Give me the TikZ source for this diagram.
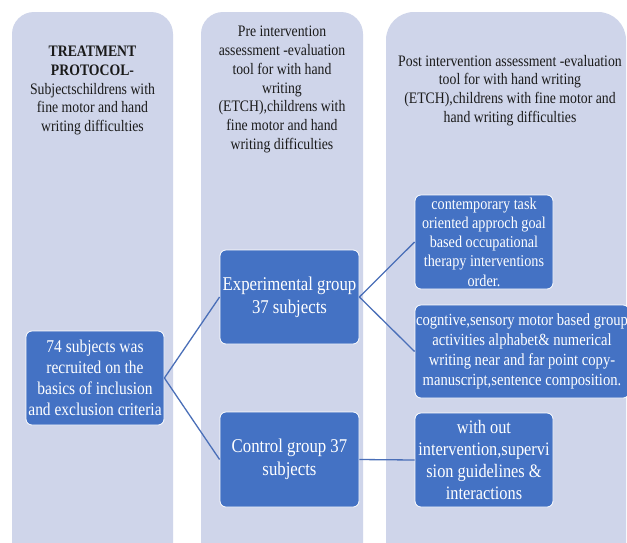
\documentclass[tikz,border=0pt]{standalone}
\usepackage{fontspec}
\newfontfamily\tnr{Liberation Serif}[FakeStretch=0.86]
\definecolor{lane}{HTML}{CFD5EA}
\definecolor{boxblue}{HTML}{4472C4}
\definecolor{linkblue}{HTML}{4A6FB8}
\definecolor{ink}{HTML}{1A1A1A}
\tikzset{
  lanebox/.style={fill=lane, draw=none, rounded corners=22pt},
  headtext/.style={text=ink, align=center, inner sep=0pt, font=\tnr\fontsize{16}{18.7}\selectfont},
  bluebox/.style={fill=boxblue, draw=white, line width=0.8pt, rounded corners=6pt,
    text=white, align=center, inner sep=0pt},
  link/.style={draw=linkblue, line width=1.3pt}
}
\begin{document}
\begin{tikzpicture}[x=1pt,y=-1pt]
\useasboundingbox (0,0) rectangle (627,542);
\clip (0,0) rectangle (627,542);
\fill[white] (0,0) rectangle (627,542);

% three lanes
\fill[lanebox] (12,12) rectangle (173,570);
\fill[lanebox] (201,12) rectangle (363,570);
\fill[lanebox, rounded corners=28pt] (386,12) rectangle (626,575);

% lane headings
\node[headtext] (h1) at (92.5,90.5) {{\bfseries TREATMENT}\\{\bfseries PROTOCOL-}\\Subjectschildrens with\\fine motor and hand\\writing difficulties};
\node[headtext] (h2) at (282,89.5) {Pre intervention\\assessment -evaluation\\tool for with hand\\writing\\(ETCH),childrens with\\fine motor and hand\\writing difficulties};
\node[headtext] (h3) at (510,90.5) {Post intervention assessment -evaluation\\tool for with hand writing\\(ETCH),childrens with fine motor and\\hand writing difficulties};

% boxes
\node[bluebox, minimum width=138pt, minimum height=94pt, font=\tnr\fontsize{18}{21}\selectfont]
  (recruit) at (95,378) {74 subjects was\\recruited on the\\basics of inclusion\\and exclusion criteria};
\node[bluebox, minimum width=139pt, minimum height=94pt, font=\tnr\fontsize{19.5}{23}\selectfont]
  (exp) at (289.5,297) {Experimental group\\37 subjects};
\node[bluebox, minimum width=139pt, minimum height=95pt, font=\tnr\fontsize{19.5}{23}\selectfont]
  (ctrl) at (289.5,459.5) {Control group 37\\subjects};
\node[bluebox, minimum width=138pt, minimum height=94pt, font=\tnr\fontsize{16.5}{19.2}\selectfont]
  (task) at (484,242) {contemporary task\\oriented approch goal\\based occupational\\therapy interventions\\order.};
\node[bluebox, minimum width=214pt, minimum height=93pt, font=\tnr\fontsize{17}{19.8}\selectfont]
  (group) at (522,351.5) {cogntive,sensory motor based group\\activities alphabet\& numerical\\writing near and far point copy-\\manuscript,sentence composition.};
\node[bluebox, minimum width=138pt, minimum height=94pt, font=\tnr\fontsize{19}{22}\selectfont]
  (none) at (484,460) {with out\\intervention,supervi\\sion guidelines \&\\interactions};

% connectors
\draw[link] (recruit.east) -- (exp.west);
\draw[link] (recruit.east) -- (ctrl.west);
\draw[link] (exp.east) -- (task.west);
\draw[link] (exp.east) -- (group.west);
\draw[link] (ctrl.east) -- (none.west);
\end{tikzpicture}
\end{document}
